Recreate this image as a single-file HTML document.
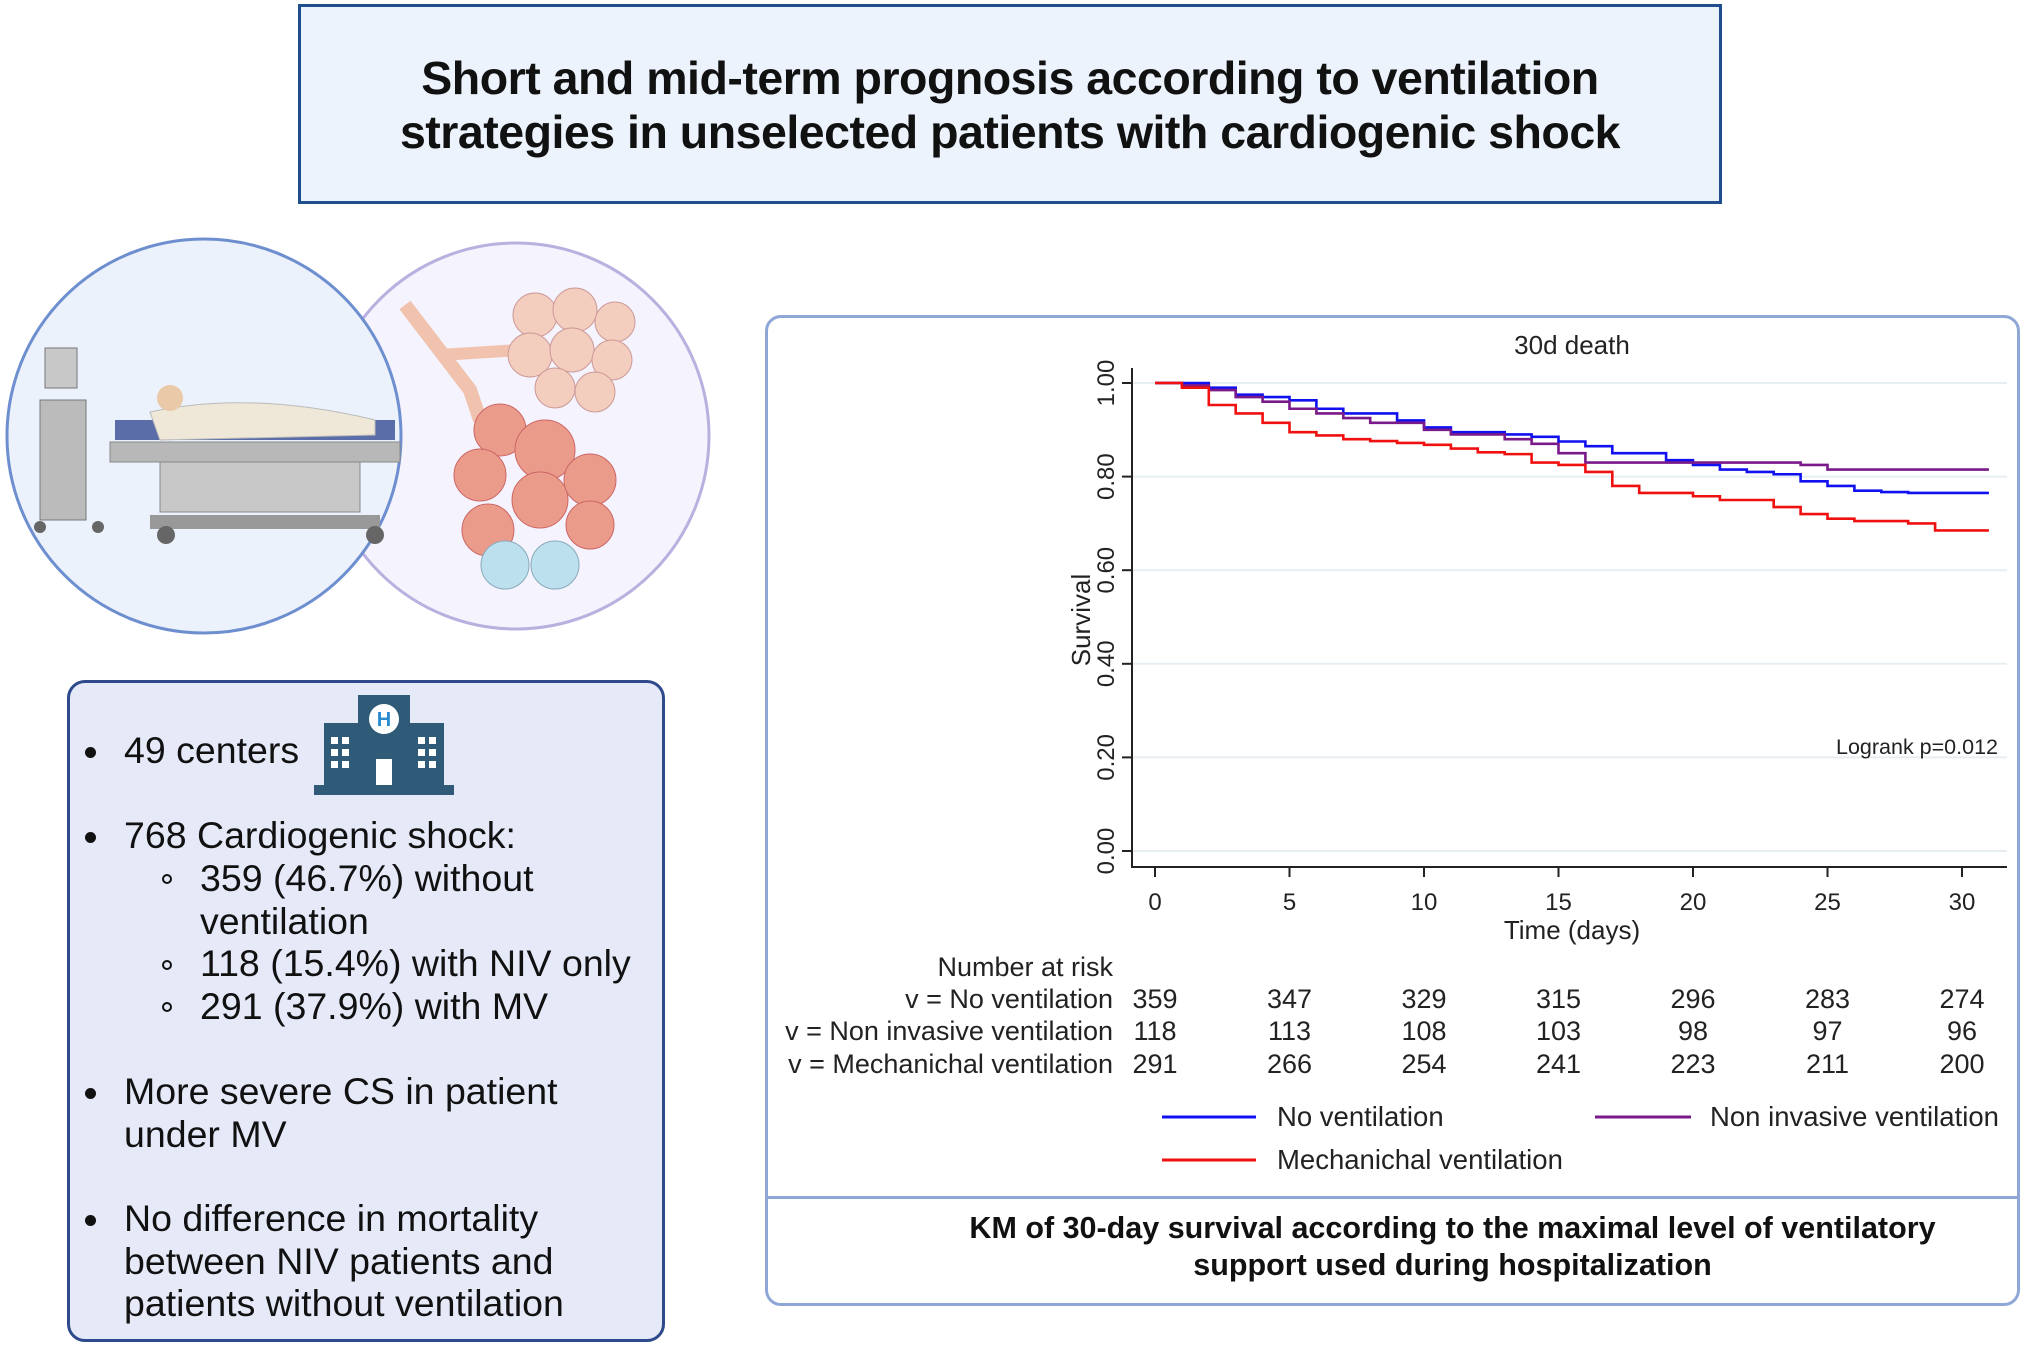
<!DOCTYPE html>
<html><head><meta charset="utf-8">
<style>
body{margin:0;width:2024px;height:1349px;background:#fff;position:relative;overflow:hidden;font-family:"Liberation Sans",sans-serif;}
.abs{position:absolute;}
#title-box{left:298px;top:4px;width:1424px;height:200px;border:3px solid #1f4e8c;background:#ecf3fc;box-sizing:border-box;}
#title-text{position:absolute;left:0;right:0;top:44px;text-align:center;font-weight:bold;font-size:46.5px;line-height:54px;color:#111;letter-spacing:-0.5px;}
#info-box{left:67px;top:680px;width:598px;height:662px;border:3px solid #2f4a8a;border-radius:18px;background:#e5e9f8;box-sizing:border-box;}
.ln{position:absolute;font-size:37.5px;color:#111;white-space:nowrap;line-height:42.5px;}
.dot{position:absolute;width:11px;height:11px;border-radius:50%;background:#111;}
.odot{position:absolute;width:10px;height:10px;border-radius:50%;border:2px solid #111;box-sizing:border-box;}
#chart-box{left:765px;top:315px;width:1255px;height:991px;border:3px solid #8fa7d6;border-radius:16px;box-sizing:border-box;background:#fff;}
</style></head><body>
<div id="title-box" class="abs">
<div id="title-text">Short and mid-term prognosis according to ventilation<br>strategies in unselected patients with cardiogenic shock</div>
</div>

<svg class="abs" style="left:0;top:230px" width="720" height="420">
<circle cx="516" cy="206" r="193" fill="#f5f3fd" stroke="#b9b0e0" stroke-width="3"/>
<circle cx="204" cy="206" r="197" fill="#ebf2fc" stroke="#6e8fcf" stroke-width="3"/>
<g>
<rect x="45" y="118" width="32" height="40" fill="#c8c8c8" stroke="#777"/>
<rect x="40" y="170" width="46" height="120" fill="#bbb" stroke="#777"/>
<circle cx="40" cy="297" r="6" fill="#666"/><circle cx="98" cy="297" r="6" fill="#666"/>
</g>
<g>
<rect x="115" y="190" width="280" height="20" fill="#5a6da8"/>
<path d="M150 182 Q250 160 375 190 L375 205 L160 210Z" fill="#efe8d8" stroke="#bbb"/>
<circle cx="170" cy="168" r="13" fill="#e9c9a8"/>
<rect x="110" y="212" width="290" height="20" fill="#b8b8b8" stroke="#888"/>
<rect x="160" y="232" width="200" height="50" fill="#c8c8c8" stroke="#888"/>
<rect x="150" y="285" width="230" height="14" fill="#999"/>
<circle cx="166" cy="305" r="9" fill="#666"/><circle cx="375" cy="305" r="9" fill="#666"/>
</g>
<g>
<path d="M405 75 L470 160 L480 190" stroke="#f1c2ad" stroke-width="14" fill="none"/>
<path d="M440 125 L520 120" stroke="#f1c2ad" stroke-width="12" fill="none"/>
<g fill="#f3cdbd" stroke="#c99">
<circle cx="535" cy="85" r="22"/><circle cx="575" cy="80" r="22"/><circle cx="615" cy="92" r="20"/>
<circle cx="530" cy="125" r="22"/><circle cx="572" cy="120" r="22"/><circle cx="612" cy="130" r="20"/>
<circle cx="555" cy="158" r="20"/><circle cx="595" cy="162" r="20"/>
</g>
<g fill="#eb9b8a" stroke="#c66">
<circle cx="500" cy="200" r="26"/><circle cx="545" cy="220" r="30"/><circle cx="480" cy="245" r="26"/>
<circle cx="540" cy="270" r="28"/><circle cx="590" cy="250" r="26"/><circle cx="590" cy="295" r="24"/>
<circle cx="488" cy="300" r="26"/>
</g>
<g fill="#bde0ef" stroke="#8ab">
<circle cx="505" cy="335" r="24"/><circle cx="555" cy="335" r="24"/>
</g>
</g>
</svg>

<div id="info-box" class="abs"></div>
<div class="dot" style="left:85px;top:747px"></div>
<div class="ln" style="left:124px;top:729px">49 centers</div>
<svg class="abs" style="left:314px;top:693px" width="140" height="102">
<rect x="10" y="30" width="34" height="66" fill="#2f5a78"/><rect x="96" y="30" width="34" height="66" fill="#2f5a78"/>
<rect x="44" y="2" width="52" height="94" fill="#2f5a78"/><rect x="0" y="92" width="140" height="10" fill="#2f5a78"/>
<circle cx="70" cy="26" r="15" fill="#fff"/><text x="70" y="33" font-size="20" font-weight="bold" fill="#2a8ad0" text-anchor="middle">H</text>
<rect x="62" y="66" width="16" height="26" fill="#fff"/>
<g fill="#fff"><rect x="17" y="44" width="7" height="7"/><rect x="28" y="44" width="7" height="7"/><rect x="17" y="56" width="7" height="7"/><rect x="28" y="56" width="7" height="7"/><rect x="17" y="68" width="7" height="7"/><rect x="28" y="68" width="7" height="7"/>
<rect x="104" y="44" width="7" height="7"/><rect x="115" y="44" width="7" height="7"/><rect x="104" y="56" width="7" height="7"/><rect x="115" y="56" width="7" height="7"/><rect x="104" y="68" width="7" height="7"/><rect x="115" y="68" width="7" height="7"/></g>
</svg>
<div class="dot" style="left:85px;top:832px"></div>
<div class="ln" style="left:124px;top:814px">768 Cardiogenic shock:</div>
<div class="odot" style="left:162px;top:874px"></div>
<div class="ln" style="left:200px;top:857px">359 (46.7%) without<br>ventilation</div>
<div class="odot" style="left:162px;top:960px"></div>
<div class="ln" style="left:200px;top:942px">118 (15.4%) with NIV only</div>
<div class="odot" style="left:162px;top:1002px"></div>
<div class="ln" style="left:200px;top:985px">291 (37.9%) with MV</div>
<div class="dot" style="left:85px;top:1088px"></div>
<div class="ln" style="left:124px;top:1070px">More severe CS in patient<br>under MV</div>
<div class="dot" style="left:85px;top:1215px"></div>
<div class="ln" style="left:124px;top:1197px">No difference in mortality<br>between NIV patients and<br>patients without ventilation</div>

<div id="chart-box" class="abs"></div>
<div class="abs" style="left:767px;top:1196px;width:1251px;height:3px;background:#8fa7d6"></div>
<div class="abs" style="left:767px;top:1210px;width:1251px;text-align:center;font-weight:bold;font-size:30.5px;line-height:37px;color:#111;padding-left:120px;box-sizing:border-box">KM of 30-day survival according to the maximal level of ventilatory<br>support used during hospitalization</div>

<svg id="km" class="abs" style="left:0;top:0" width="2024" height="1349"></svg>
<script>
const days=[0,1,2,3,4,5,6,7,8,9,10,11,12,13,14,15,16,17,18,19,20,21,22,23,24,25,26,27,28,29,30,31];
const noVent=[1,1,0.99,0.975,0.97,0.963,0.945,0.935,0.935,0.92,0.905,0.895,0.895,0.89,0.885,0.875,0.865,0.85,0.85,0.835,0.825,0.815,0.81,0.805,0.79,0.78,0.77,0.767,0.765,0.765,0.765,0.765];
const nonInv=[1,0.995,0.985,0.97,0.96,0.945,0.935,0.925,0.915,0.915,0.90,0.89,0.89,0.88,0.87,0.85,0.83,0.83,0.83,0.83,0.83,0.83,0.83,0.83,0.825,0.815,0.815,0.815,0.815,0.815,0.815,0.815];
const mechVent=[1,0.99,0.953,0.935,0.915,0.895,0.888,0.88,0.876,0.872,0.868,0.86,0.852,0.848,0.83,0.825,0.81,0.78,0.765,0.765,0.758,0.75,0.75,0.735,0.72,0.71,0.705,0.705,0.70,0.685,0.685,0.685];
const yTicks=["0.00","0.20","0.40","0.60","0.80","1.00"];
const xTicks=[0,5,10,15,20,25,30];
const riskNo=[359,347,329,315,296,283,274];
const riskNiv=[118,113,108,103,98,97,96];
const riskMv=[291,266,254,241,223,211,200];
const NS="http://www.w3.org/2000/svg";
const svg=document.getElementById('km');
const X=d=>1155+d*(1962-1155)/30;
const Y=v=>851-v*(851-383);
function mk(t,a,txt){const e=document.createElementNS(NS,t);for(const k in a)e.setAttribute(k,a[k]);if(txt!==undefined)e.textContent=txt;svg.appendChild(e);return e;}
const F='"Liberation Sans",sans-serif';
yTicks.forEach(t=>{const v=parseFloat(t);const y=Y(v);
const g=mk('line',{x1:1132,x2:2007,y1:y,y2:y,stroke:'#e6eef2','stroke-width':2});


const tk=mk('line',{x1:1122,x2:1132,y1:y,y2:y,stroke:'#222','stroke-width':2});


const l=mk('text',{x:1114,y:y,transform:`rotate(-90 1114 ${y})`,'text-anchor':'middle','font-size':24,fill:'#222','font-family':F},t);

});
const ax=mk('path',{d:'M1132 368 L1132 867 L2007 867',stroke:'#222','stroke-width':2,fill:'none'});


xTicks.forEach((t,i)=>{const x=X(t);
const tk=mk('line',{x1:x,x2:x,y1:867,y2:877,stroke:'#222','stroke-width':2});


const l=mk('text',{x:x,y:910,'text-anchor':'middle','font-size':24,fill:'#222','font-family':F},t);


[[riskNo,1008],[riskNiv,1040],[riskMv,1073]].forEach(([arr,y])=>{
const r=mk('text',{x:x,y:y,'text-anchor':'middle','font-size':27,fill:'#222','font-family':F},arr[i]);

});});
function step(arr,col,name){let d=`M${X(days[0])} ${Y(arr[0])}`;
for(let i=1;i<days.length;i++){d+=` L${X(days[i])} ${Y(arr[i-1])} L${X(days[i])} ${Y(arr[i])}`;}
const p=mk('path',{d:d,stroke:col,'stroke-width':2.6,fill:'none'});

}
step(noVent,'#1010f0','no-ventilation-line');
step(nonInv,'#7a1a8a','non-invasive-line');
step(mechVent,'#f01010','mechanical-ventilation-line');
const texts=[
[1572,354,'middle',26,'30d death','plot-title'],
[1572,939,'middle',26,'Time (days)','x-axis-title'],
[1998,754,'end',21.5,'Logrank p=0.012','logrank-label'],
[1113,976,'end',27,'Number at risk','risk-table-title'],
[1113,1008,'end',27,'v = No ventilation','risk-row-label'],
[1113,1040,'end',27,'v = Non invasive ventilation','risk-row-label'],
[1113,1073,'end',27,'v = Mechanichal ventilation','risk-row-label'],
[1277,1126,'start',27.5,'No ventilation','legend-label'],
[1710,1126,'start',27.5,'Non invasive ventilation','legend-label'],
[1277,1169,'start',27.5,'Mechanichal ventilation','legend-label']];
texts.forEach(([x,y,a,s,t,n])=>{const e=mk('text',{x:x,y:y,'text-anchor':a,'font-size':s,fill:'#222','font-family':F},t);

});
const ly=mk('text',{x:1090,y:620,transform:'rotate(-90 1090 620)','text-anchor':'middle','font-size':26,fill:'#222','font-family':F},'Survival');


[[1162,1256,1117,'#1010f0'],[1595,1691,1117,'#7a1a8a'],[1162,1256,1160,'#f01010']].forEach(([a,b,y,c])=>{
const l=mk('line',{x1:a,x2:b,y1:y,y2:y,stroke:c,'stroke-width':3});

});
</script>
</body></html>
